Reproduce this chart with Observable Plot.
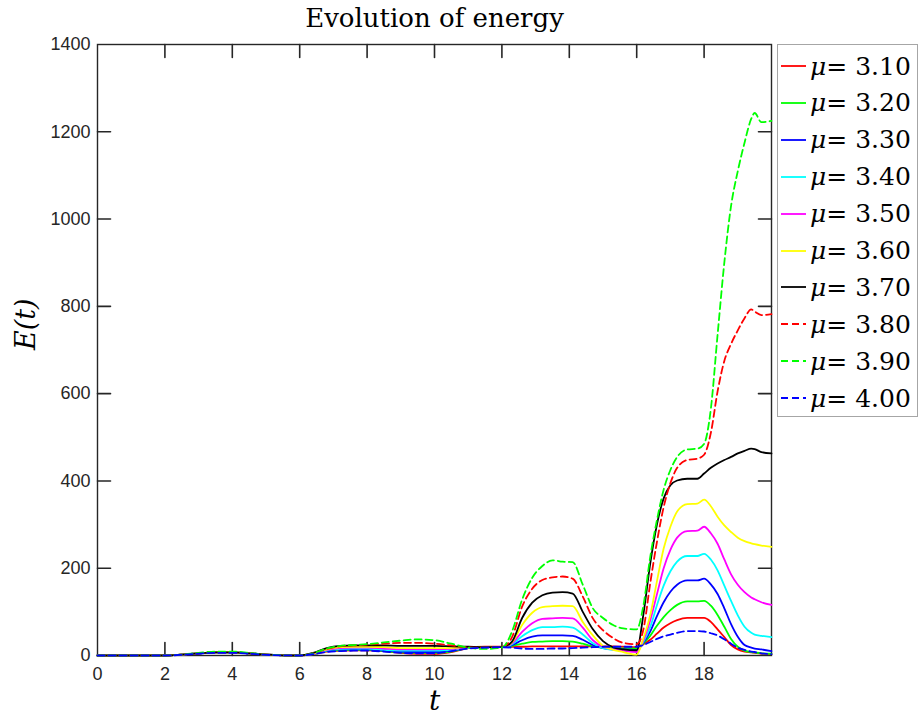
<!DOCTYPE html>
<html><head><meta charset="utf-8">
<script src="https://cdn.jsdelivr.net/npm/d3@7"></script>
<script src="https://cdn.jsdelivr.net/npm/@observablehq/plot@0.6"></script>
<style>
body{margin:0;background:#fff;}
#wrap{position:relative;width:920px;height:717px;overflow:hidden;}
#legend{position:absolute;left:777px;top:44px;width:139px;height:371px;border:1px solid #a6a6a6;background:#fff;font-family:"DejaVu Serif",serif;font-size:25px;color:#000;}
.row{position:absolute;left:0;height:36px;display:flex;align-items:center;white-space:pre;}
.row svg{margin-left:3px;margin-right:4px;}
</style></head>
<body><div id="wrap"><div id="chart"></div><div id="legend"></div></div>
<script>
const t = [0, 2, 2.5, 3, 3.5, 4, 4.5, 5, 5.5, 6, 6.4, 6.8, 7.2, 7.6, 8, 8.5, 9, 9.5, 10, 10.5, 11, 11.5, 12, 12.3, 12.6, 12.9, 13.2, 13.5, 13.8, 14.1, 14.4, 14.7, 15, 15.3, 15.6, 16, 16.2, 16.4, 16.6, 16.8, 17, 17.2, 17.5, 17.8, 18, 18.2, 18.4, 18.6, 18.8, 19, 19.2, 19.4, 19.5, 19.7, 20];

const e310 = [0,0,2,5,7,7,5,2,0.5,0, 3,9,11,12,12, 10,6,4,4,8,17,20,20, 20,20,21,21,21,21,21,21,21,21,21,20,19, 26,36,50,64,74,81,86,86,86,77,60,42,24,14,9,7,6,4,3];
const e320 = [0,0,2,5,7,7,5,2,0.5,0, 3,10,12,13,13, 10,7,6,6,9,17,19,19, 22,27,31,32,33,33,32,27,21,18,17,16,16, 28,45,68,88,104,116,124,124,125,114,93,66,38,20,11,8,7,5,4];
const e330 = [0,0,2,5,7,7,5,2,0.5,0, 4,11,14,14,14, 11,9,8,8,11,17,19,19, 24,35,43,46,46,46,45,36,24,17,14,14,13, 30,55,90,122,146,162,172,172,176,163,141,108,72,43,24,18,16,14,10];
const e340 = [0,0,2,5,7,7,5,2,0.5,0, 4,12,15,16,16, 13,11,11,11,13,17,19,19, 26,44,58,65,65,66,64,48,28,17,13,12,11, 32,65,115,160,193,215,228,228,233,220,195,160,125,92,66,52,48,45,42];
const e350 = [0,0,2,5,7,7,5,2,0.5,0, 4,13,17,18,18, 16,14,14,14,15,18,19,19, 28,54,74,84,85,86,85,64,35,20,14,11,8, 35,80,140,200,242,270,285,286,295,280,256,220,186,162,145,133,129,122,116];
const e360 = [0,0,2,5,7,7,5,2,0.5,0, 5,14,19,20,20, 19,17,17,17,17,19,19,19, 30,70,98,111,113,114,113,77,46,22,13,8,2, 40,92,170,245,295,330,347,348,357,342,318,298,283,270,262,257,255,252,249];
const e370 = [0,0,2,5,7,7,5,2,0.5,0, 6,17,22,23,23, 23,22,22,22,21,20,19,19, 32,86,121,138,144,145,142,100,60,33,19,14,12, 95,210,300,360,390,401,405,405,417,430,440,448,455,463,469,474,473,466,463];
const e380 = [0,0,2,5,8,8,5,2,0.5,0, 5,15,21,23,25, 27,29,29,27,23,19,18,19, 42,112,153,173,179,181,176,135,85,58,40,29,26, 60,165,260,340,395,430,448,451,460,510,605,675,714,745,773,793,788,780,782];
const e390 = [0,0,2,6,9,9,6,2,0.5,0, 5,16,22,24,26, 30,34,37,35,27,18,15,18, 55,128,178,205,218,215,214,162,108,86,70,62,60, 115,225,310,380,425,455,472,474,485,565,735,900,1030,1110,1175,1230,1243,1222,1225];
const e400 = [0,0,1.5,4,6,6,4,1.5,0.3,0, 3,8,10,11,11, 9,6,5,5,10,16,18,19, 18,16,15,15,16,16,17,18,19,20,20,20,20, 24,31,38,44,48,52,56,56,55,51,46,37,27,18,13,9,8,5,3];

const mus = ["3.10","3.20","3.30","3.40","3.50","3.60","3.70","3.80","3.90","4.00"];
const xTickLabels = [0,2,4,6,8,10,12,14,16,18];
const yTickLabels = [0,200,400,600,800,1000,1200,1400];

const series = [e310,e320,e330,e340,e350,e360,e370,e380,e390,e400];
const colors = ["#ff0000","#00ff00","#0000ff","#00ffff","#ff00ff","#ffff00","#000000","#ff0000","#00ff00","#0000ff"];
const dashed = [false,false,false,false,false,false,false,true,true,true];
const DASH = "7,4";

const lines = series.map((vals, i) => Plot.line(
  t.map((x, j) => ({t: x, E: vals[j]})),
  {x: "t", y: "E", stroke: colors[i], strokeWidth: 1.8,
   strokeDasharray: dashed[i] ? DASH : null, curve: "monotone-x"}));

const W = 920, H = 717, ML = 97, MR = 149, MT = 44, MB = 62;
const xMin = 0, xMax = 20, yMin = 0, yMax = 1400;
const TL = 13;
const tkY = TL * (yMax - yMin) / (H - MT - MB);
const tkX = TL * (xMax - xMin) / (W - ML - MR);
const inner = xTickLabels.filter(d => d > xMin);
const yInner = yTickLabels.filter(d => d > yMin && d < yMax);
const axisCol = "#262626";
const fmt = d => String(d);

const tickRows = [];
inner.forEach((v, i) => {
  tickRows.push({x: v, y: yMin, k: "b" + i}, {x: v, y: yMin + tkY, k: "b" + i});
  tickRows.push({x: v, y: yMax - tkY, k: "t" + i}, {x: v, y: yMax, k: "t" + i});
});
yInner.forEach((v, i) => {
  tickRows.push({x: xMin, y: v, k: "l" + i}, {x: xMin + tkX, y: v, k: "l" + i});
  tickRows.push({x: xMax - tkX, y: v, k: "r" + i}, {x: xMax, y: v, k: "r" + i});
});

const chart = Plot.plot({
  width: W, height: H,
  marginLeft: ML, marginRight: MR, marginTop: MT, marginBottom: MB,
  x: {domain: [xMin, xMax], label: null},
  y: {domain: [yMin, yMax], label: null},
  style: {fontFamily: "'Liberation Sans', Arial, sans-serif", fontSize: "18px", color: axisCol, background: "#fff"},
  marks: [
    Plot.frame({stroke: axisCol, strokeWidth: 1.4}),
    Plot.line(tickRows, {x: "x", y: "y", z: "k", stroke: axisCol, strokeWidth: 1.6}),
    Plot.axisX(xTickLabels, {anchor: "bottom", tickSize: 0, tickPadding: 12, fontSize: 18, tickFormat: fmt, label: null}),
    Plot.axisY(yTickLabels, {anchor: "left", tickSize: 0, tickPadding: 7, fontSize: 18, tickFormat: fmt, label: null}),
    ...lines,
    Plot.text(["Evolution of energy"], {frameAnchor: "top", dy: -18, lineAnchor: "bottom", fontFamily: "'DejaVu Serif', serif", fontSize: 26, fill: "#000"}),
    Plot.text(["E(t)"], {frameAnchor: "left", dx: -71, rotate: -90, lineAnchor: "middle", fontFamily: "'DejaVu Serif', serif", fontStyle: "italic", fontSize: 27, fill: "#000"}),
    Plot.text(["t"], {frameAnchor: "bottom", dy: 46, lineAnchor: "middle", fontFamily: "'DejaVu Serif', serif", fontStyle: "italic", fontSize: 28, fill: "#000"})
  ]
});
document.getElementById("chart").appendChild(chart);

const legend = document.getElementById("legend");
mus.forEach((mu, i) => {
  const row = document.createElement("div");
  row.className = "row";
  row.style.top = (3 + i * 36.9) + "px";
  const svg = `<svg width="25" height="10"><line x1="0" x2="25" y1="5" y2="5" stroke="${colors[i]}" stroke-width="1.8" ${dashed[i] ? `stroke-dasharray="${DASH}"` : ""}/></svg>`;
  row.innerHTML = svg + `<span><i>μ</i>= ${mu}</span>`;
  legend.appendChild(row);
});
</script>
</body></html>
